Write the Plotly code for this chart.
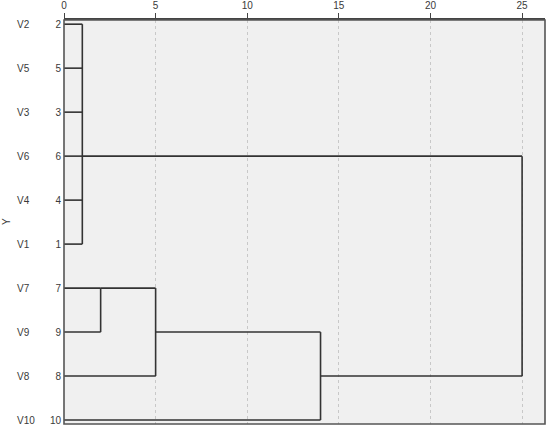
import plotly.graph_objects as go

# ---- data ----
leaf_labels = ["V2", "V5", "V3", "V6", "V4", "V1", "V7", "V9", "V8", "V10"]
case_ids = ["2", "5", "3", "6", "4", "1", "7", "9", "8", "10"]
# merge table (children, rescaled distance, row where the merged branch leaves)
merge_names = ["C1", "C2", "C3", "C4", "C5"]
merge_children = [
    ["V2", "V5", "V3", "V6", "V4", "V1"],
    ["V7", "V9"],
    ["C2", "V8"],
    ["C3", "V10"],
    ["C1", "C4"],
]
merge_heights = [1, 2, 5, 14, 25]
merge_rows = [3, 6, 7, 8, 5.5]
x_ticks = [0, 5, 10, 15, 20, 25]

# ---- build positions ----
pos = {lab: (0.0, i) for i, lab in enumerate(leaf_labels)}
for name, ch, h, r in zip(merge_names, merge_children, merge_heights, merge_rows):
    pos[name] = (h, r)

xs, ys = [], []
for name, ch, h in zip(merge_names, merge_children, merge_heights):
    rows = []
    for c in ch:
        cx, cy = pos[c]
        xs += [cx, h, None]
        ys += [cy, cy, None]
        rows.append(cy)
    xs += [h, h, None]
    ys += [min(rows), max(rows), None]

fig = go.Figure()
fig.add_trace(go.Scatter(x=xs, y=ys, mode="lines",
                         line=dict(color="#333333", width=1.6),
                         hoverinfo="skip", showlegend=False))

L, R, T, B = 64, 5, 20, 6
W, H = 550, 430
pw = W - L - R
txt = "#3a3a3a"

for i, lab in enumerate(leaf_labels):
    fig.add_annotation(x=(15 - L) / pw, xref="paper", y=i, yref="y",
                       text=lab, showarrow=False, xanchor="left",
                       font=dict(size=10, color=txt))
fig.add_annotation(x=(6 - L) / pw, xref="paper", y=(H - B - 222) / (H - T - B),
                   yref="paper", text="Y", textangle=-90, showarrow=False,
                   xanchor="center", yanchor="middle",
                   font=dict(size=10, color=txt))

fig.add_shape(type="rect", xref="paper", yref="paper", x0=0, x1=1, y0=0, y1=1,
              line=dict(color="#555555", width=1.6), layer="above")

fig.update_layout(
    width=W, height=H,
    margin=dict(l=L, r=R, t=T, b=B, autoexpand=False),
    paper_bgcolor="white", plot_bgcolor="#f0f0f0",
    font=dict(family="Liberation Sans, Arial", size=10, color=txt),
    xaxis=dict(side="top", range=[0, 26.25], tickvals=x_ticks, automargin=False,
               ticks="outside", ticklen=5, tickcolor="#444444",
               tickfont=dict(size=10, color=txt),
               showgrid=True, gridcolor="#c8c8c8", griddash="dot", gridwidth=1,
               zeroline=False, showline=True, linecolor="#444444", linewidth=2),
    yaxis=dict(range=[9.09, -0.095], tickvals=list(range(len(case_ids))),
               ticktext=case_ids, ticks="", showgrid=False, zeroline=False,
               tickfont=dict(size=10, color=txt),
               showline=False, ticklabelstandoff=2, automargin=False),
)

fig.write_html("out.html", config={"displayModeBar": False},
               post_script="document.body.style.margin='0';document.body.style.overflow='hidden';")
